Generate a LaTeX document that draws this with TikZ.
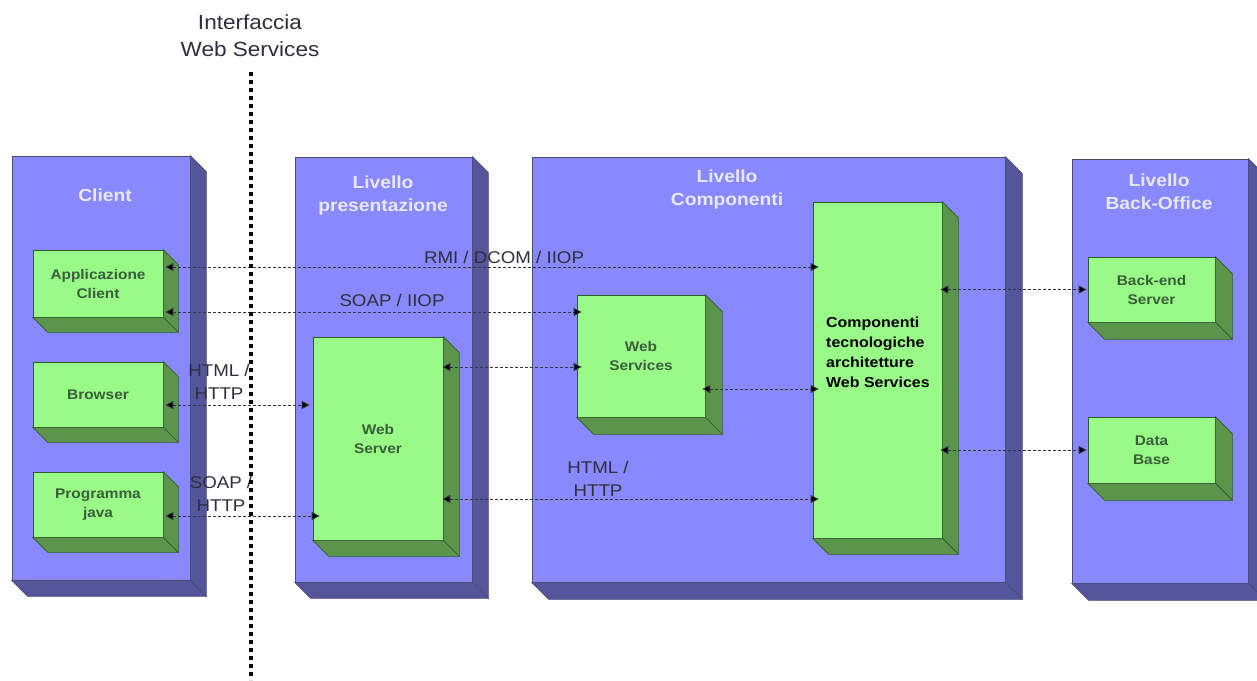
\documentclass[tikz,border=0pt]{standalone}
\usepackage{fontspec}
\newfontfamily\lab{Liberation Sans}[FakeStretch=1.1]
\usetikzlibrary{arrows.meta}
\definecolor{bluef}{HTML}{8888FF}
\definecolor{blues}{HTML}{55559B}
\definecolor{tierline}{HTML}{4A4A70}
\definecolor{greenf}{HTML}{99FA88}
\definecolor{greens}{HTML}{5B954B}
\definecolor{unitline}{HTML}{2F5A2F}
\definecolor{unittext}{HTML}{3A5E3A}
\definecolor{titletext}{HTML}{E8E8F4}
\definecolor{labtext}{HTML}{2E2E3C}
\definecolor{conncolor}{HTML}{333340}
\newcommand\cubesides[4]{%
  \filldraw[fill=#3,draw=#4,line width=0.7pt] (#1.north east) -- ++(#2,#2) -- ([shift={(#2,#2)}]#1.south east) -- (#1.south east) -- cycle;
  \filldraw[fill=#3,draw=#4,line width=0.7pt] (#1.south west) -- (#1.south east) -- ([shift={(#2,#2)}]#1.south east) -- ([shift={(#2,#2)}]#1.south west) -- cycle;}
\begin{document}
\begin{tikzpicture}[x=1pt,y=-1pt,
  tierbox/.style={draw=tierline, fill=bluef, line width=0.7pt, inner sep=0pt},
  unitbox/.style={draw=unitline, fill=greenf, line width=0.7pt, inner sep=0pt, align=center, text=unittext, font=\lab\bfseries\fontsize{14}{19}\selectfont},
  tiertitle/.style={align=center, text=titletext, font=\lab\bfseries\fontsize{17.5}{23}\selectfont, inner sep=0pt},
  conn/.style={draw=conncolor, line width=0.9pt, dash pattern=on 3pt off 2pt, {Triangle[length=8pt,width=8pt,fill=black]}-{Triangle[length=8pt,width=8pt,fill=black]}},
  protolabel/.style={align=center, text=labtext, font=\lab\fontsize{17}{23}\selectfont, inner sep=0pt},
]
\fill[white] (0,0) rectangle (1257,680);
\useasboundingbox (0,0) rectangle (1257,680);

% tiers
\node[tierbox, minimum width=178pt, minimum height=424pt] (client) at (101,368) {};
\cubesides{client}{16}{blues}{tierline}
\node[tierbox, minimum width=177pt, minimum height=425pt] (pres) at (383.5,369.5) {};
\cubesides{pres}{16}{blues}{tierline}
\node[tierbox, minimum width=473pt, minimum height=425pt] (compl) at (768.5,369.5) {};
\cubesides{compl}{17}{blues}{tierline}
\node[tierbox, minimum width=176pt, minimum height=424pt] (back) at (1160,371) {};
\cubesides{back}{17}{blues}{tierline}

\node[tiertitle] (tclient) at (105,195) {Client};
\node[tiertitle] (tpres) at (383,195) {Livello\\presentazione};
\node[tiertitle] (tcompl) at (727,189) {Livello\\Componenti};
\node[tiertitle] (tback) at (1159,192) {Livello\\Back-Office};

% units
\node[unitbox, minimum width=130pt, minimum height=67pt] (appc) at (98,283.5) {Applicazione\\Client};
\cubesides{appc}{15}{greens}{unitline}
\node[unitbox, minimum width=130pt, minimum height=65pt] (browser) at (98,394.5) {Browser};
\cubesides{browser}{15}{greens}{unitline}
\node[unitbox, minimum width=130pt, minimum height=65pt] (prog) at (98,504.5) {Programma\\java};
\cubesides{prog}{15}{greens}{unitline}
\node[unitbox, minimum width=130pt, minimum height=203pt] (websrv) at (378,438.5) {Web\\Server};
\cubesides{websrv}{16}{greens}{unitline}
\node[unitbox, minimum width=128pt, minimum height=122pt] (ws) at (641,356) {Web\\Services};
\cubesides{ws}{17}{greens}{unitline}
\node[unitbox, minimum width=129pt, minimum height=336pt] (comp) at (877.5,370) {};
\cubesides{comp}{16}{greens}{unitline}
\node[align=left, anchor=west, text=black, inner sep=0pt, font=\lab\bfseries\fontsize{14.5}{20}\selectfont] (comptext) at (826,352) {Componenti\\tecnologiche\\architetture\\Web Services};
\node[unitbox, minimum width=127pt, minimum height=65pt] (bes) at (1151.5,289.5) {Back-end\\Server};
\cubesides{bes}{17}{greens}{unitline}
\node[unitbox, minimum width=127pt, minimum height=66pt] (db) at (1151.5,450) {Data\\Base};
\cubesides{db}{17}{greens}{unitline}

% connectors
\draw[conn] ([xshift=2pt,yshift=16.5pt]appc.east) coordinate (c1) -- ([xshift=6pt]comp.west |- c1);
\draw[conn] ([xshift=2pt,yshift=-28.5pt]appc.east) coordinate (c2) -- ([xshift=5pt]ws.west |- c2);
\draw[conn] ([xshift=2pt,yshift=-10.5pt]browser.east) coordinate (c3) -- ([xshift=-3pt]websrv.west |- c3);
\draw[conn] ([xshift=2pt,yshift=-11.5pt]prog.east) coordinate (c4) -- ([xshift=7pt]websrv.west |- c4);
\draw[conn] ([xshift=-1pt,yshift=71.5pt]websrv.east) coordinate (c5) -- ([xshift=5pt]ws.west |- c5);
\draw[conn] ([xshift=-1pt,yshift=-60.5pt]websrv.east) coordinate (c6) -- ([xshift=6pt]comp.west |- c6);
\draw[conn] ([xshift=-3pt,yshift=-33pt]ws.east) coordinate (c7) -- ([xshift=6pt]comp.west |- c7);
\draw[conn] ([xshift=-2pt]comp.east |- bes.west) -- ([xshift=-1pt]bes.west);
\draw[conn] ([xshift=-2pt]comp.east |- db.west) -- ([xshift=-1pt]db.west);

% protocol labels
\node[protolabel] (l1) at (504,257) {RMI / DCOM / IIOP};
\node[protolabel] (l2) at (392,300) {SOAP / IIOP};
\node[protolabel] (l3) at (219,382) {HTML /\\HTTP};
\node[protolabel] (l4) at (221,494) {SOAP /\\HTTP};
\node[protolabel] (l5) at (598,479) {HTML /\\HTTP};

% interface line
\node[align=center, inner sep=0pt, text=labtext, font=\lab\fontsize{20.5}{27}\selectfont] (iface) at (250,36) {Interfaccia\\Web Services};
\coordinate (itop) at (251,72);
\coordinate (ibot) at (251,680);
\draw[line width=3.5pt, color=black, dash pattern=on 4pt off 4pt] (itop) -- (ibot);
\end{tikzpicture}
\end{document}
